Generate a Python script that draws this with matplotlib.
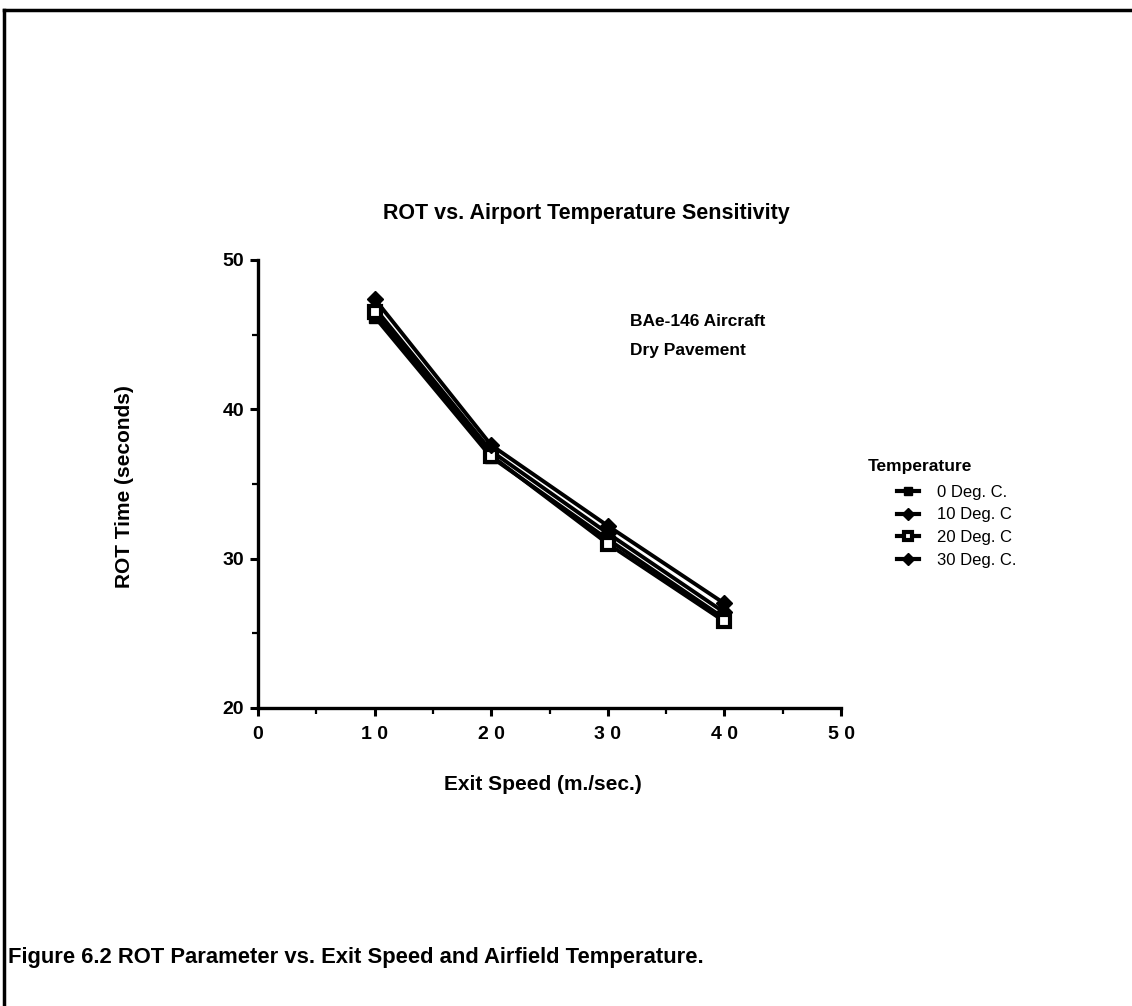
import matplotlib
matplotlib.use("Agg")
import matplotlib.pyplot as plt
from matplotlib.lines import Line2D
from matplotlib.ticker import MultipleLocator

plt.rcParams['font.family'] = ['Liberation Sans', 'DejaVu Sans']

exit_speed = [10, 20, 30, 40]
series_labels = ["0 Deg. C.", "10 Deg. C", "20 Deg. C", "30 Deg. C."]
rot_0 = [46.2, 36.8, 31.3, 26.0]
rot_10 = [46.8, 37.2, 31.7, 26.4]
rot_20 = [46.5, 36.9, 31.0, 25.8]
rot_30 = [47.4, 37.6, 32.2, 27.0]
x_ticks = [0, 10, 20, 30, 40, 50]
y_ticks = [20, 30, 40, 50]

W, H = 1132, 1006
fig = plt.figure(figsize=(W / 100, H / 100), dpi=100)
ax = fig.add_axes([258 / W, 1 - 708 / H, (841 - 258) / W, (708 - 260) / H])

styles = [
    dict(marker='s', mfc='black', mec='black'),
    dict(marker='D', mfc='black', mec='black'),
    dict(marker='s', mfc='white', mec='black', mew=3),
    dict(marker='D', mfc='black', mec='black'),
]
for vals, lab, st in zip([rot_0, rot_10, rot_20, rot_30], series_labels, styles):
    ax.plot(exit_speed, vals, color='black', lw=2.8, ms=8, label=lab, **st)

ax.set_xlim(0, 50)
ax.set_ylim(20, 50)
ax.set_xticks(x_ticks)
ax.set_yticks(y_ticks)
ax.xaxis.set_minor_locator(MultipleLocator(5))
ax.yaxis.set_minor_locator(MultipleLocator(5))
for s in ['top', 'right']:
    ax.spines[s].set_visible(False)
for s in ['left', 'bottom']:
    ax.spines[s].set_linewidth(2.4)
ax.tick_params(which='major', direction='out', length=6, width=2.2, labelsize=14, pad=4)
ax.tick_params(which='minor', direction='out', length=4, width=1.6)
ax.tick_params(axis='x', which='major', pad=7)
for t in ax.get_xticklabels() + ax.get_yticklabels():
    t.set_fontweight('bold')
ax.set_xticklabels([" ".join(str(v)) for v in x_ticks])

fig.text(586 / W, 1 - 213 / H, "ROT vs. Airport Temperature Sensitivity",
         fontsize=15.5, fontweight='bold', ha='center', va='center')
fig.text(543 / W, 1 - 784 / H, "Exit Speed (m./sec.)", fontsize=15,
         fontweight='bold', ha='center', va='center')
fig.text(124 / W, 1 - 487 / H, "ROT Time (seconds)", fontsize=15,
         fontweight='bold', ha='center', va='center', rotation=90)

fig.text(630 / W, 1 - 322 / H, "BAe-146 Aircraft", fontsize=12.5,
         fontweight='bold', va='center')
fig.text(630 / W, 1 - 350 / H, "Dry Pavement", fontsize=12.5,
         fontweight='bold', va='center')

# legend: title placed on its own, entries indented beneath it
fig.text(868 / W, 1 - 466 / H, "Temperature", fontsize=12.5,
         fontweight='bold', ha='left', va='center')
leg = fig.legend(loc='upper left', bbox_to_anchor=(897 / W, 1 - 485 / H), frameon=False,
                 fontsize=12, handlelength=1.3, handletextpad=1.1,
                 labelspacing=0.45, markerscale=0.8, borderpad=0, borderaxespad=0)
for h in leg.legend_handles:
    h.set_linewidth(3)

fig.text(8 / W, 1 - 957 / H, "Figure 6.2 ROT Parameter vs. Exit Speed and Airfield Temperature.",
         fontsize=15.8, fontweight='bold', va='center', ha='left')

# page frame: left and top rules
fig.add_artist(Line2D([4 / W, 4 / W], [0.0, 1 - 10 / H], color='black', lw=2.5,
                      transform=fig.transFigure))
fig.add_artist(Line2D([4 / W, 1.0], [1 - 10 / H, 1 - 10 / H], color='black', lw=2.5,
                      transform=fig.transFigure))

fig.savefig("out.png", dpi=100)
